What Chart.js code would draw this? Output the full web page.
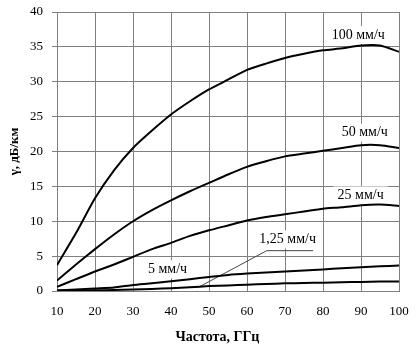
<!DOCTYPE html>
<html>
<head>
<meta charset="utf-8">
<script src="https://cdn.jsdelivr.net/npm/chart.js@4"></script>
<style>
    html, body { margin: 0; padding: 0; background: #fff; }
</style>
</head>
<body>
<canvas id="attenChart" width="419" height="351"></canvas>
<script>
// Frequency, GHz
const freqs = [10, 15, 20, 25, 30, 35, 40, 45, 50, 55, 60, 65, 70, 75, 80, 85, 90, 95, 100];

// Specific attenuation, dB/km, per rain rate
const rain100 = [3.7, 8.3, 13.3, 17.3, 20.5, 23.0, 25.3, 27.2, 28.9, 30.3, 31.7, 32.6, 33.4, 34.0, 34.5, 34.8, 35.2, 35.2, 34.3];
const rain50 = [1.5, 3.8, 6.0, 8.1, 10.0, 11.6, 13.0, 14.3, 15.5, 16.7, 17.8, 18.6, 19.3, 19.7, 20.1, 20.5, 20.9, 20.9, 20.5];
const rain25 = [0.6, 1.7, 2.8, 3.8, 4.9, 6.0, 6.9, 7.9, 8.7, 9.4, 10.1, 10.6, 11.0, 11.4, 11.8, 12.0, 12.3, 12.4, 12.2];
const rain5 = [0.1, 0.2, 0.35, 0.5, 0.85, 1.1, 1.4, 1.7, 2.0, 2.3, 2.5, 2.65, 2.8, 2.95, 3.1, 3.25, 3.4, 3.55, 3.65];
const rain125 = [0, 0.05, 0.1, 0.15, 0.2, 0.3, 0.4, 0.55, 0.7, 0.8, 0.9, 1.0, 1.1, 1.15, 1.2, 1.25, 1.3, 1.35, 1.35];

const seriesNames = ['100 мм/ч', '50 мм/ч', '25 мм/ч', '5 мм/ч', '1,25 мм/ч'];

const xTicks = { min: 10, max: 100, step: 10 };
const yTicks = { min: 0, max: 40, step: 5 };

const serif = '"Liberation Serif", "Times New Roman", serif';

function toPoints(values) {
    return freqs.map((f, i) => ({ x: f, y: values[i] }));
}

// labels next to the curves, placed in data units
const notes = [
    { text: seriesNames[0], x: 89.3, y: 36.7 },
    { text: seriesNames[1], x: 91.0, y: 22.7 },
    { text: seriesNames[2], x: 89.9, y: 13.7 },
    { text: seriesNames[4], x: 70.7, y: 7.4 },
    { text: seriesNames[3], x: 39.1, y: 3.1 }
];

const notesPlugin = {
    id: 'curveNotes',
    beforeDatasetsDraw(chart) {
        const { ctx, scales: { x, y } } = chart;
        ctx.save();
        ctx.font = '14px ' + serif;
        ctx.textAlign = 'center';
        ctx.textBaseline = 'middle';
        notes.forEach(n => {
            const px = x.getPixelForValue(n.x);
            const py = y.getPixelForValue(n.y);
            const w = ctx.measureText(n.text).width;
            ctx.fillStyle = '#fff';
            ctx.fillRect(px - w / 2 - 4, py - 9, w + 8, 18);
            ctx.fillStyle = '#000';
            ctx.fillText(n.text, px, py);
        });
        // leader for the 1,25 mm/h curve
        ctx.strokeStyle = '#444';
        ctx.lineWidth = 1;
        ctx.beginPath();
        ctx.moveTo(x.getPixelForValue(47.2), y.getPixelForValue(0.53));
        ctx.lineTo(x.getPixelForValue(65.2), y.getPixelForValue(5.78));
        ctx.lineTo(x.getPixelForValue(77.4), y.getPixelForValue(5.78));
        ctx.stroke();
        ctx.restore();
    },
    afterDraw(chart) {
        // x axis title sits a bit left of the plot centre in the original
        const { ctx } = chart;
        ctx.save();
        ctx.font = 'bold 14px ' + serif;
        ctx.fillStyle = '#000';
        ctx.textAlign = 'center';
        ctx.textBaseline = 'middle';
        ctx.fillText('Частота, ГГц', chart.width * 0.519, chart.height - 14);
        ctx.restore();
    }
};

const lineStyle = {
    borderColor: '#000',
    borderWidth: 2,
    pointRadius: 0,
    fill: false,
    tension: 0.2
};

const ctx = document.getElementById('attenChart').getContext('2d');
new Chart(ctx, {
    type: 'line',
    data: {
        datasets: [
            { label: seriesNames[0], data: toPoints(rain100), ...lineStyle },
            { label: seriesNames[1], data: toPoints(rain50), ...lineStyle },
            { label: seriesNames[2], data: toPoints(rain25), ...lineStyle },
            { label: seriesNames[3], data: toPoints(rain5), ...lineStyle },
            { label: seriesNames[4], data: toPoints(rain125), ...lineStyle }
        ]
    },
    options: {
        responsive: false,
        animation: false,
        devicePixelRatio: 1,
        layout: { padding: { top: 12, right: 20, left: 0, bottom: 0 } },
        plugins: {
            legend: { display: false },
            tooltip: { enabled: false }
        },
        scales: {
            x: {
                type: 'linear',
                min: xTicks.min,
                max: xTicks.max,
                afterFit: s => {
                    s.height = 60;
                    s.paddingLeft = 0;
                    s.paddingRight = 0;
                },
                ticks: {
                    stepSize: xTicks.step,
                    color: '#000',
                    padding: 13,
                    font: { family: serif, size: 13 }
                },
                grid: { color: '#808080', lineWidth: 1, drawTicks: false },
                border: { color: '#808080' }
            },
            y: {
                min: yTicks.min,
                max: yTicks.max,
                afterFit: s => {
                    s.width = 57;
                    s.paddingTop = 0;
                    s.paddingBottom = 0;
                },
                ticks: {
                    stepSize: yTicks.step,
                    color: '#000',
                    padding: 9,
                    font: { family: serif, size: 13 }
                },
                grid: { color: '#808080', lineWidth: 1, tickLength: 5 },
                border: { color: '#808080' },
                title: {
                    display: true,
                    text: 'γ, дБ/км',
                    color: '#000',
                    padding: { top: 7, bottom: 0 },
                    font: { family: serif, size: 13, weight: 'bold' }
                }
            }
        }
    },
    plugins: [notesPlugin]
});
</script>
</body>
</html>
